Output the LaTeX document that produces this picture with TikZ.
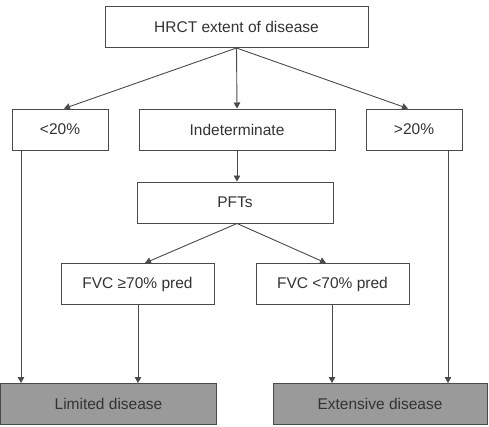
\documentclass[tikz,border=0pt]{standalone}
\usepackage{fontspec}
\setmainfont{Liberation Sans}
\usetikzlibrary{arrows.meta}
\definecolor{lnc}{HTML}{4A4A4A}
\definecolor{txc}{HTML}{333333}
\definecolor{gfill}{HTML}{9A9A9A}
\begin{document}
\begin{tikzpicture}[x=1pt,y=-1pt,
  box/.style={draw=lnc,line width=1pt,minimum height=41pt,inner sep=0pt,text=txc,font=\fontsize{15.5}{18}\selectfont},
  greybox/.style={box,fill=gfill},
  arr/.style={draw=lnc,line width=0.9pt,-{Triangle[length=6pt,width=6.5pt]}}]
\useasboundingbox (0,0) rectangle (489,426);
\node[box,minimum width=263pt] (hrct) at (236.5,26.5) {HRCT extent of disease};
\node[box,minimum width=96pt] (lt) at (60,129.5) {<20\%};
\node[box,minimum width=196pt] (ind) at (237,129.5) {Indeterminate};
\node[box,minimum width=96pt] (gt) at (414,129.5) {>20\%};
\node[box,minimum width=196pt] (pft) at (235,202.5) {PFTs};
\node[box,minimum width=153pt] (fvcg) at (137.5,284) {FVC ≥70\% pred};
\node[box,minimum width=153pt] (fvcl) at (332.5,284) {FVC <70\% pred};
\node[greybox,minimum width=216pt] (lim) at (108.5,404) {Limited disease};
\node[greybox,minimum width=214pt] (ext) at (380,404) {Extensive disease};
\coordinate (hb) at (236.5,48);
\draw[arr] (hb) -- (lt.north -| 64,0);
\draw[arr] (hb) -- (ind.north);
\draw[arr] (hb) -- (gt.north -| 408,0);
\draw[arr] (ind.south) -- (pft.north -| ind.south);
\draw[arr] (pft.south -| 237,0) -- (fvcg.north -| 145,0);
\draw[arr] (pft.south -| 237,0) -- (fvcl.north -| 326,0);
\draw[arr] (lt.south -| 21,0) -- (lim.north -| 21,0);
\draw[arr] (gt.south -| 448,0) -- (ext.north -| 448,0);
\draw[arr] (fvcg.south -| 138,0) -- (lim.north -| 138,0);
\draw[arr] (fvcl.south -| 332,0) -- (ext.north -| 332,0);
\end{tikzpicture}
\end{document}
